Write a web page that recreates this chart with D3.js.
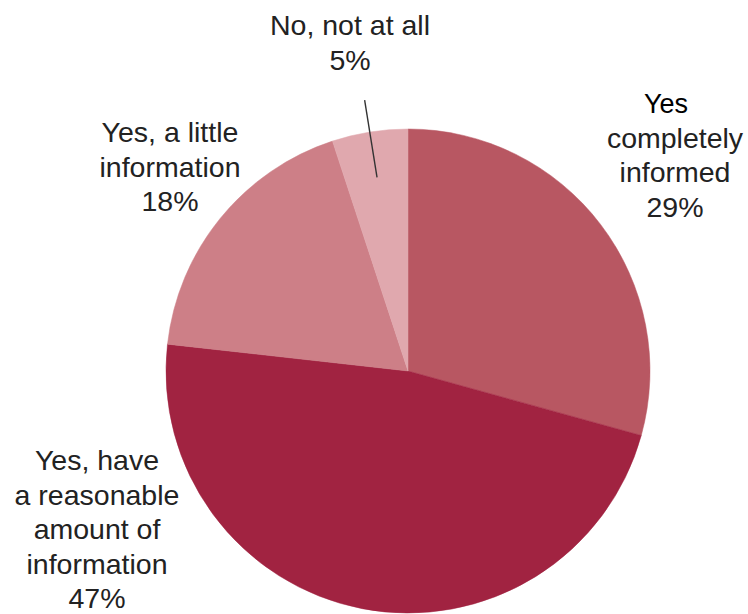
<!DOCTYPE html>
<html>
<head>
<meta charset="utf-8">
<script src="https://cdn.jsdelivr.net/npm/d3@7/dist/d3.min.js"></script>
<style>
  html, body { margin: 0; padding: 0; background: #fff; }
  svg { display: block; }
</style>
</head>
<body>
<svg id="chart" width="748" height="614"></svg>
<script>
// Survey answers, clockwise from 12 o'clock
const categories = [
  "Yes completely informed",
  "Yes, have a reasonable amount of information",
  "Yes, a little information",
  "No, not at all"
];
const values = [29, 47, 18, 5];
const colors = ["#b85762", "#a12341", "#cd7f87", "#e0a8ae"];

// Label text, one line per entry
const labelLines = [
  ["Yes", "completely", "informed", "29%"],
  ["Yes, have", "a reasonable", "amount of", "information", "47%"],
  ["Yes, a little", "information", "18%"],
  ["No, not at all", "5%"]
];

const width = 748, height = 614;
const cx = 408, cy = 371, radius = 242;

// Where each label block sits: centre x, first baseline y
const labelLayout = [
  { x: 675, y: 113 },
  { x: 97,  y: 470 },
  { x: 170, y: 142 },
  { x: 350, y: 35 }
];
const lineStep = 34.5;

const svg = d3.select("#chart");

const pie = d3.pie().sort(null).value(d => d.value);
const arc = d3.arc().innerRadius(0).outerRadius(radius);

const data = categories.map((c, i) => ({ name: c, value: values[i], color: colors[i] }));
const arcs = pie(data);

const g = svg.append("g").attr("transform", `translate(${cx},${cy})`);

g.selectAll("path.slice")
  .data(arcs)
  .join("path")
  .attr("class", "slice")
  .attr("d", arc)
  .attr("fill", d => d.data.color)
  .attr("stroke", d => d.data.color)
  .attr("stroke-width", 0.5);

// Radial leader line for the small slice
const small = arcs[3];
const midA = (small.startAngle + small.endAngle) / 2;
const inner = radius * 0.81;
const outer = radius * 1.134;
g.append("line")
  .attr("x1", Math.sin(midA) * inner)
  .attr("y1", -Math.cos(midA) * inner)
  .attr("x2", Math.sin(midA) * outer)
  .attr("y2", -Math.cos(midA) * outer)
  .attr("stroke", "#333")
  .attr("stroke-width", 1.4);

// Labels
labelLines.forEach((lines, i) => {
  const pos = labelLayout[i];
  const t = svg.append("text")
    .attr("text-anchor", "middle")
    .attr("font-family", "'Liberation Sans', Arial, Helvetica, sans-serif")
    .attr("font-size", 28.5)
    .attr("fill", "#222");
  lines.forEach((line, j) => {
    const ts = t.append("tspan")
      .attr("x", pos.x)
      .attr("y", pos.y + j * lineStep)
      .text(line);
    if (i === 0 && j === 0) {
      ts.attr("x", 666).attr("fill", "#000").attr("font-size", 27);
    }
  });
});
</script>
</body>
</html>
